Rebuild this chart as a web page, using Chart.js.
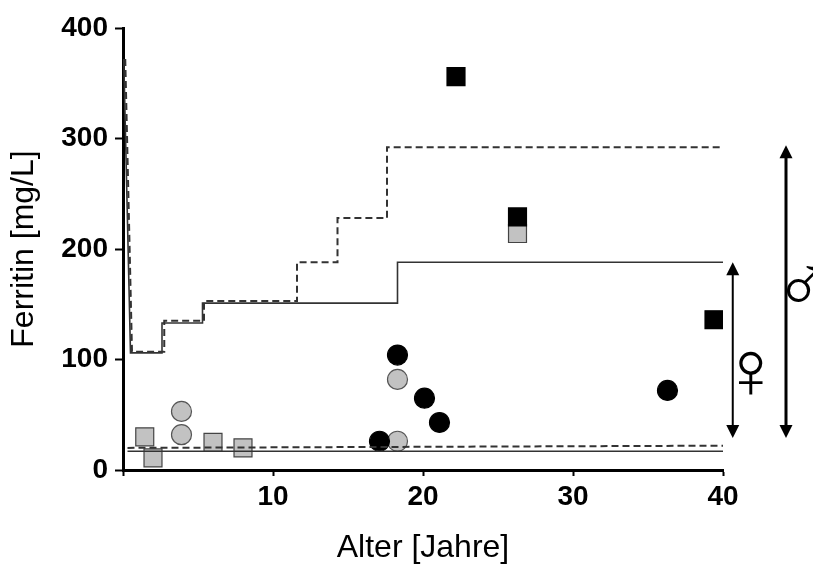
<!DOCTYPE html>
<html>
<head>
<meta charset="utf-8">
<script src="https://cdn.jsdelivr.net/npm/chart.js"></script>
<style>
  body { margin: 0; background: #fff; }
  #chart { display: block; }
</style>
</head>
<body>
<canvas id="chart" width="813" height="564"></canvas>
<script>
  // reference lines (vertices, age in years / ferritin)
  var upperSolidX = [0.05, 0.5, 2.6, 2.6, 5.3, 5.3, 18.3, 18.3, 40];
  var upperSolidY = [372, 106, 106, 133, 133, 151, 151, 188, 188];
  var upperDashX = [0.15, 0.6, 2.75, 2.75, 5.4, 5.4, 11.6, 11.6, 14.3, 14.3, 17.6, 17.6, 40];
  var upperDashY = [372, 107, 107, 135, 135, 153, 153, 188, 188, 228, 228, 292, 292];
  var lowerSolidX = [0.3, 40];
  var lowerSolidY = [17, 17];
  var lowerDashX = [0.3, 40];
  var lowerDashY = [20, 22];

  // patients
  var grayCircleX = [3.9, 3.9, 18.3, 18.3];
  var grayCircleY = [53, 32, 82, 26];
  var blackCircleX = [17.1, 18.3, 20.1, 21.1, 36.3];
  var blackCircleY = [26, 104, 65, 43, 72];
  var blackSquareX = [22.2, 26.3, 39.4];
  var blackSquareY = [356, 229, 136];
  var graySquareX = [1.45, 2.0, 6.0, 8.0, 26.3];
  var graySquareY = [30, 11, 25, 20, 214];

  // ranges shown by the arrows on the right
  var femaleRange = [29, 188];
  var maleRange = [29, 294];
  var femaleArrowX = 40.65;
  var maleArrowX = 44.2;

  var xTicks = [0, 10, 20, 30, 40];
  var yTicks = [0, 100, 200, 300, 400];

  function pts(xs, ys) {
    var out = [];
    for (var i = 0; i < xs.length; i++) out.push({x: xs[i], y: ys[i]});
    return out;
  }

  function lineSet(xs, ys, dashed) {
    return {
      data: pts(xs, ys),
      showLine: true,
      pointRadius: 0,
      borderColor: '#333',
      borderWidth: dashed ? 2 : 1.6,
      borderDash: dashed ? [7, 4] : [],
      fill: false
    };
  }

  function markSet(xs, ys, shape, fill, edge) {
    return {
      data: pts(xs, ys),
      showLine: false,
      pointStyle: shape,
      pointRadius: shape == 'rect' ? 12.7 : 10,
      backgroundColor: fill,
      borderColor: edge,
      borderWidth: 1.2
    };
  }

  function arrow(ctx, x, yTop, yBot, w) {
    ctx.save();
    ctx.strokeStyle = '#000';
    ctx.fillStyle = '#000';
    ctx.lineWidth = w;
    ctx.beginPath();
    ctx.moveTo(x, yTop + 10);
    ctx.lineTo(x, yBot - 10);
    ctx.stroke();
    ctx.beginPath();
    ctx.moveTo(x, yTop);
    ctx.lineTo(x - 6.5, yTop + 13);
    ctx.lineTo(x + 6.5, yTop + 13);
    ctx.closePath();
    ctx.fill();
    ctx.beginPath();
    ctx.moveTo(x, yBot);
    ctx.lineTo(x - 6.5, yBot - 13);
    ctx.lineTo(x + 6.5, yBot - 13);
    ctx.closePath();
    ctx.fill();
    ctx.restore();
  }

  var sexMarks = {
    id: 'sexMarks',
    afterDraw: function(chart) {
      var ctx = chart.ctx;
      var xs = chart.scales.x, ys = chart.scales.y;
      var fx = xs.getPixelForValue(femaleArrowX);
      var mx = xs.getPixelForValue(maleArrowX);
      arrow(ctx, fx, ys.getPixelForValue(femaleRange[1]), ys.getPixelForValue(femaleRange[0]), 2);
      arrow(ctx, mx, ys.getPixelForValue(maleRange[1]), ys.getPixelForValue(maleRange[0]), 3);
      ctx.save();
      ctx.fillStyle = '#000';
      ctx.font = '82px "Liberation Sans", "DejaVu Sans"';
      ctx.textAlign = 'center';
      ctx.textBaseline = 'middle';
      ctx.fillText('\u2640', fx + 18, ys.getPixelForValue(86));
      ctx.fillText('\u2642', mx + 18, ys.getPixelForValue(163));
      ctx.restore();
    }
  };

  var tickFont = {family: '"Liberation Sans", Arial, sans-serif', size: 28, weight: 'bold'};
  var titleFont = {family: '"Liberation Sans", Arial, sans-serif', size: 32, lineHeight: 1};

  new Chart(document.getElementById('chart'), {
    type: 'scatter',
    data: {
      datasets: [
        lineSet(upperSolidX, upperSolidY, false),
        lineSet(upperDashX, upperDashY, true),
        lineSet(lowerSolidX, lowerSolidY, false),
        lineSet(lowerDashX, lowerDashY, true),
        markSet(blackCircleX, blackCircleY, 'circle', '#000', '#000'),
        markSet(grayCircleX, grayCircleY, 'circle', '#c2c2c2', '#555'),
        markSet(blackSquareX, blackSquareY, 'rect', '#000', '#000'),
        markSet(graySquareX, graySquareY, 'rect', '#c2c2c2', '#444')
      ]
    },
    options: {
      responsive: false,
      animation: false,
      layout: {padding: {left: 0, right: 90, top: 28, bottom: 0}},
      plugins: {legend: {display: false}, tooltip: {enabled: false}},
      scales: {
        x: {
          type: 'linear',
          min: 0,
          max: 40,
          afterFit: function(s) { s.height = 94; },
          afterBuildTicks: function(s) { s.ticks = xTicks.map(function(v) { return {value: v}; }); },
          border: {display: true, color: '#000', width: 3},
          grid: {drawOnChartArea: false, drawTicks: true, tickLength: 6, tickColor: '#000', tickWidth: 2},
          ticks: {
            color: '#000', font: tickFont, padding: 4, maxRotation: 0,
            callback: function(v) { return v == 0 ? '' : v; }
          },
          title: {display: true, text: 'Alter [Jahre]', color: '#000', font: titleFont, padding: {top: 0, bottom: 0}}
        },
        y: {
          type: 'linear',
          min: 0,
          max: 400,
          afterFit: function(s) { s.width = 123; },
          afterBuildTicks: function(s) { s.ticks = yTicks.map(function(v) { return {value: v}; }); },
          border: {display: true, color: '#000', width: 3},
          grid: {drawOnChartArea: false, drawTicks: true, tickLength: 8, tickColor: '#000', tickWidth: 2},
          ticks: {color: '#000', font: tickFont, padding: 7},
          title: {display: true, text: 'Ferritin [mg/L]', color: '#000', font: titleFont, padding: {top: 8, bottom: 0}}
        }
      }
    },
    plugins: [sexMarks]
  });
</script>
</body>
</html>
